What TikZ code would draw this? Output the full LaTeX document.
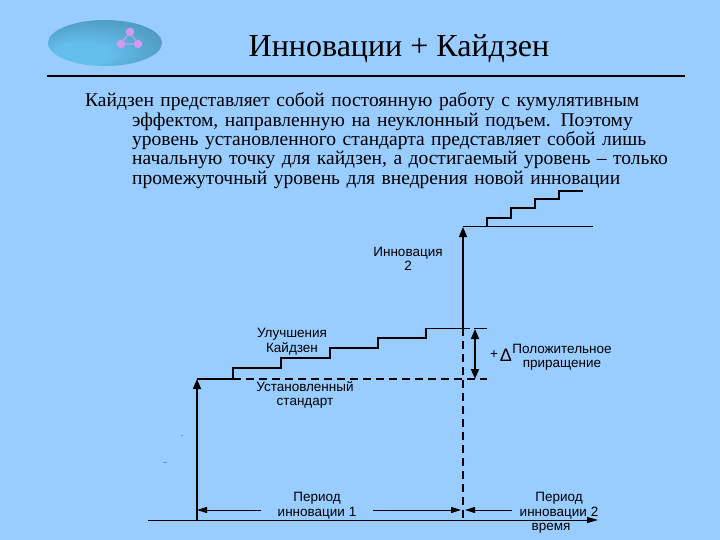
\documentclass[tikz,border=0pt]{standalone}
\usepackage{fontspec}
\setmainfont{Liberation Serif}
\setsansfont{Liberation Sans}
\newfontfamily\bodyfont[WordSpace=0.5]{Liberation Serif}
\usepackage{xcolor}
\definecolor{slideblue}{HTML}{99CCFF}
\definecolor{ovalblue}{HTML}{4E98BE}
\definecolor{ovallight}{HTML}{64BEEC}
\definecolor{molecule}{HTML}{D49AF0}
\usetikzlibrary{arrows.meta, positioning, shapes.geometric, calc}
\pgfdeclareradialshading{ovalshade}{\pgfpoint{-14bp}{-16bp}}{color(0bp)=(ovallight); color(12bp)=(ovallight); color(34bp)=(ovalblue); color(50bp)=(ovalblue)}
\tikzset{
    thinline/.style={line width=1pt},
    stepline/.style={line width=1.7pt, line join=miter},
    axisline/.style={line width=1.8pt},
    dashline/.style={line width=1.6pt, dash pattern=on 8pt off 5pt},
    bigarrow/.style={line width=1.6pt, -{Triangle[length=10pt,width=8pt]}},
    dimarrow/.style={line width=1pt, -{Triangle[length=10pt,width=6pt]}},
    chartlabel/.style={font=\sffamily\fontsize{13.5}{14.5}\selectfont, align=center, inner sep=0pt},
    atom/.style={circle, fill=molecule, minimum size=8.5pt, inner sep=0pt},
}
\begin{document}
\begin{tikzpicture}[x=1pt, y=-1pt]
    \fill[slideblue] (0,0) rectangle (720,540);
    \useasboundingbox (0,0) rectangle (720,540);

    \node[ellipse, minimum width=114pt, minimum height=46pt, inner sep=0pt,
          shading=ovalshade] (oval) at (105,43) {};
    \node[atom] (atomtop) at (130,32) {};
    \node[atom] (atomleft) at (121,44) {};
    \node[atom] (atomright) at (138,44) {};
    \draw[molecule, line width=1.2pt] (atomtop) -- (atomleft) -- (atomright) -- (atomtop);

    \node[font=\fontsize{32}{36}\selectfont, inner sep=0pt] (title) at (399,48.5) {Инновации + Кайдзен};
    \coordinate (ruleleft) at (47,76.5);
    \coordinate (ruleright) at (685,76.5);
    \draw[line width=2pt] (ruleleft) -- (ruleright);

    \node[anchor=north west, inner sep=0pt, text width=620pt, align=left,
          font=\bodyfont\fontsize{19.5}{19.4}\selectfont] (body) at (85,92.5) {%
      Кайдзен представляет собой постоянную работу с кумулятивным\\
      \hspace*{47pt}эффектом, направленную на неуклонный подъем. Поэтому\\
      \hspace*{47pt}уровень установленного стандарта представляет собой лишь\\
      \hspace*{47pt}начальную точку для кайдзен, а достигаемый уровень – только\\
      \hspace*{47pt}промежуточный уровень для внедрения новой инновации};

    \coordinate (timestart) at (148,520);
    \coordinate (timeend) at (598,520);
    \coordinate (origin) at (197,520);
    \coordinate (standard) at (197,379);
    \coordinate (firststep) at (233,379);
    \coordinate (standardend) at (487,379);
    \coordinate (crossstandard) at (463,379);
    \coordinate (crosskaizen) at (463,328);
    \coordinate (crossbottom) at (463,518);
    \coordinate (newlevel) at (463,227);
    \coordinate (newlevelend) at (593,227);
    \coordinate (deltatop) at (475,329);
    \coordinate (deltabottom) at (475,379);

    \draw[thinline, -{Triangle[length=11pt,width=6pt]}] (timestart) -- (timeend);
    \draw[bigarrow] (origin) -- (standard);
    \draw[axisline] (standard) -- (firststep);
    \draw[dashline] (firststep) -- (standardend);
    \draw[stepline] (firststep) -- ++(0,-11) -- ++(48,0) -- ++(0,-10) -- ++(49,0)
        -- ++(0,-10) -- ++(48,0) -- ++(0,-10) -- ++(48,0) -- ++(0,-10);
    \draw[thinline] (426,328) -- (470,328) (474,328) -- (487,328);
    \draw[dashline] (crosskaizen) -- (crossbottom);
    \draw[bigarrow] (crosskaizen) -- (newlevel);
    \draw[thinline] (newlevel) -- (newlevelend);
    \draw[stepline] (487,227) -- ++(0,-9) -- ++(24,0) -- ++(0,-10) -- ++(24,0)
        -- ++(0,-9) -- ++(24,0) -- ++(0,-8) -- ++(24,0);
    \draw[bigarrow, {Triangle[length=10pt,width=8pt]}-{Triangle[length=10pt,width=8pt]}] (deltatop) -- (deltabottom);

    \node[chartlabel] (innovation) at (408,259) {Инновация\\2};
    \node[chartlabel] (kaizen) at (292,341.5) {Улучшения\\Кайдзен};
    \node[chartlabel] (standardtext) at (305,395) {Установленный\\стандарт};
    \node[chartlabel] (positive) at (562,357.5) {Положительное\\приращение};
    \node[chartlabel] (plus) at (494,355) {+};
    \node[chartlabel, font=\sffamily\fontsize{18}{18}\selectfont] (delta) at (506,355) {Δ};
    \node[chartlabel] (period1) at (317,505.5) {Период\\инновации 1};
    \node[chartlabel] (period2) at (559,505.5) {Период\\инновации 2};
    \node[chartlabel] (timetext) at (551,528) {время};
    \node[chartlabel, font=\sffamily\fontsize{7}{8}\selectfont] (speck1) at (182,436) {.};
    \node[chartlabel, font=\sffamily\fontsize{7}{8}\selectfont] (speck2) at (165,463) {..};

    \draw[dimarrow] (period1.west |- 0,510) ++(-17,0) -- (origin |- 0,510);
    \draw[dimarrow] (period1.east |- 0,510) ++(17,0) -- (461,510);
    \draw[dimarrow] (period2.west |- 0,510) ++(-8,0) -- (465,510);
\end{tikzpicture}
\end{document}
